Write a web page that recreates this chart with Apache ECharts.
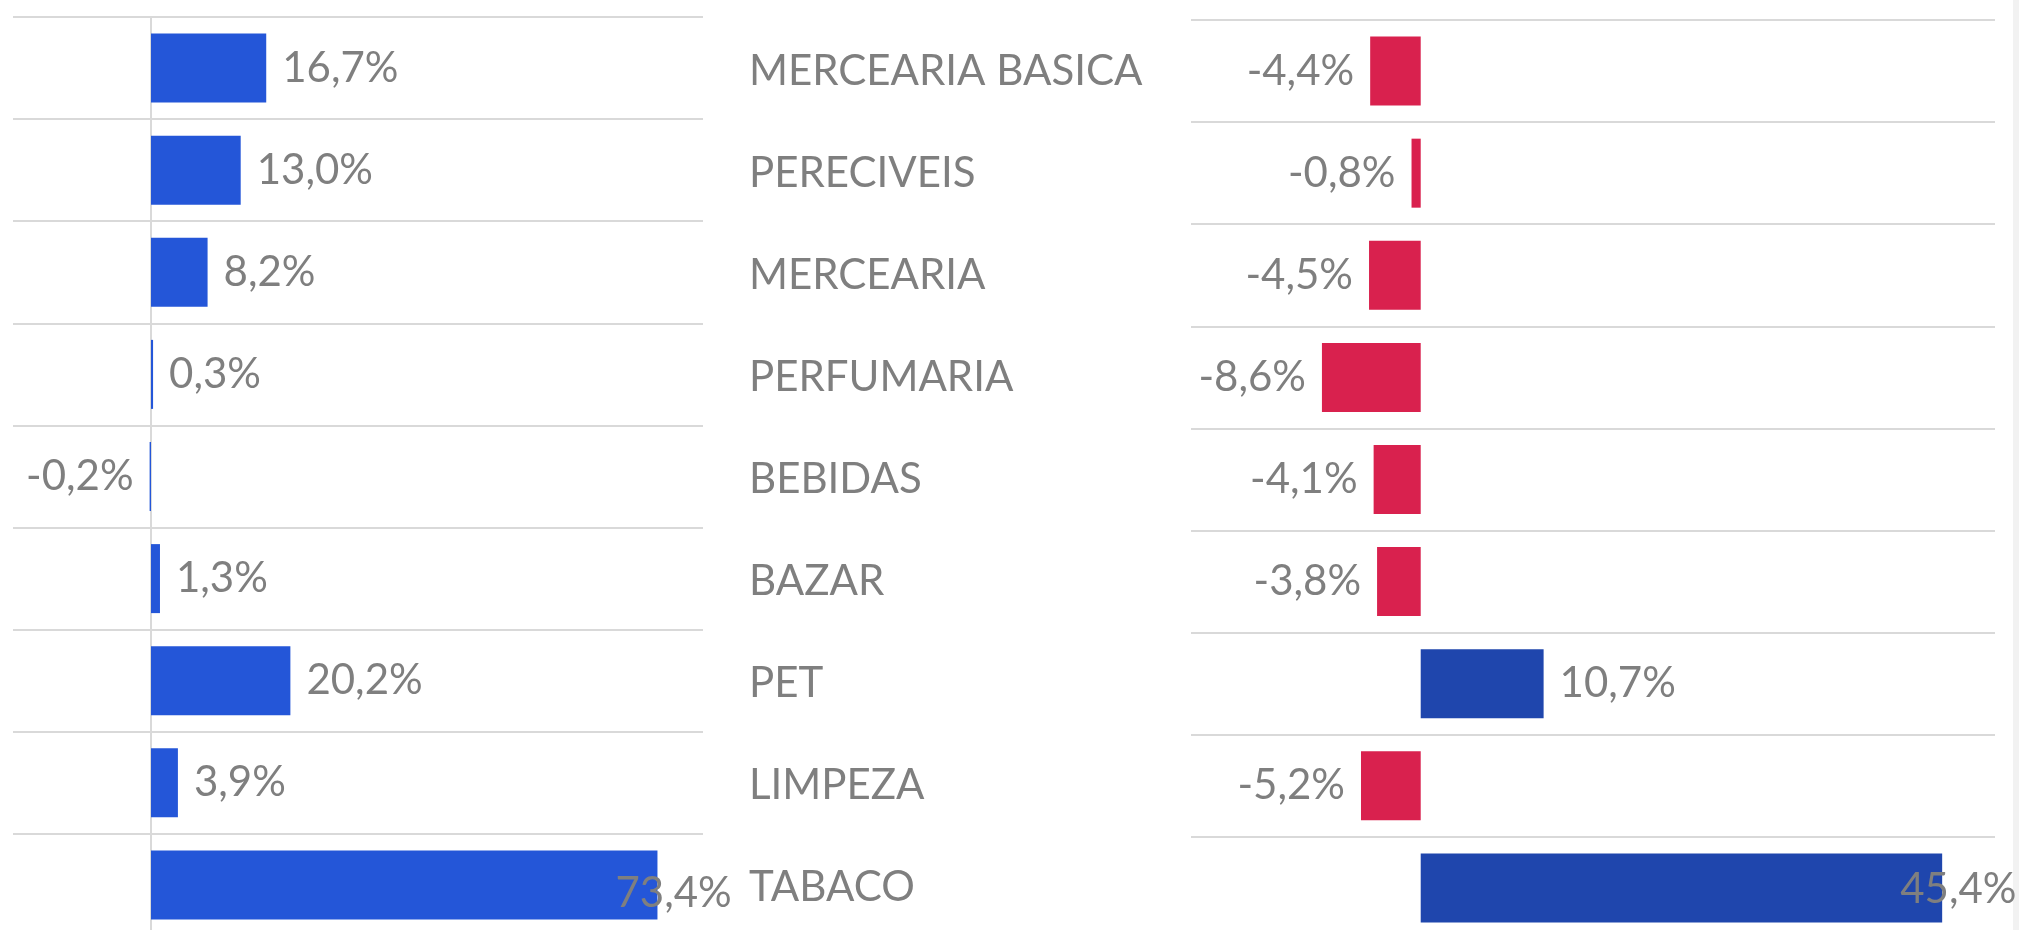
<!DOCTYPE html>
<html>
<head>
<meta charset="utf-8">
<title>Variação por categoria</title>
<script src="https://cdn.jsdelivr.net/npm/echarts@6/dist/echarts.min.js"></script>
<style>
  html, body { margin: 0; padding: 0; background: #fff; overflow: hidden; }
  /* o gráfico original é cortado embaixo, por isso o container é maior que a janela */
  #main { width: 2019px; height: 950px; }
</style>
</head>
<body>
<div id="main"></div>
<script>
// categorias (de cima para baixo)
const categorias = ['MERCEARIA BASICA', 'PERECIVEIS', 'MERCEARIA', 'PERFUMARIA', 'BEBIDAS', 'BAZAR', 'PET', 'LIMPEZA', 'TABACO']
// variação do gráfico da esquerda (%)
const valoresEsq = [16.7, 13.0, 8.2, 0.3, -0.2, 1.3, 20.2, 3.9, 73.4]
// variação do gráfico da direita (%)
const valoresDir = [-4.4, -0.8, -4.5, -8.6, -4.1, -3.8, 10.7, -5.2, 45.4]

const cinza = '#7F7F7F'
const fonte = 'Lato, "Open Sans", sans-serif'

function fmt (v) {
  return v.toFixed(1).replace('.', ',') + '%'
}

// monta os itens de barra, label à esquerda quando negativo
function itens (valores, corPos, corNeg, offsetMaior) {
  const maxV = Math.max(...valores)
  return valores.map(v => {
    const item = {
      value: v,
      itemStyle: { color: v < 0 ? corNeg : corPos },
      label: { position: v < 0 ? 'left' : 'right' }
    }
    // o maior valor tem o label "empurrado" para dentro da barra (como no Excel)
    if (v === maxV) item.label.offset = offsetMaior
    return item
  })
}

const chart = echarts.init(document.getElementById('main'))

const labelValor = {
  show: true,
  distance: 16,
  color: cinza,
  fontSize: 42,
  fontFamily: fonte,
  formatter: p => fmt(p.value)
}

const option = {
  backgroundColor: '#fff',
  animation: false,
  grid: [
    { left: 13, top: 17, width: 690, height: 919 },
    { left: 1191, top: 20, width: 804, height: 919 }
  ],
  xAxis: [
    { gridIndex: 0, type: 'value', min: -20, max: 80, axisLabel: { show: false }, axisLine: { show: false }, axisTick: { show: false }, splitLine: { show: false } },
    { gridIndex: 1, type: 'value', min: -20, max: 50, axisLabel: { show: false }, axisLine: { show: false }, axisTick: { show: false }, splitLine: { show: false } }
  ],
  yAxis: [
    {
      gridIndex: 0,
      type: 'category',
      inverse: true,
      data: categorias,
      axisLine: { show: true, onZero: true, lineStyle: { color: '#D9D9D9', width: 2 } },
      axisTick: { show: false },
      axisLabel: { show: false },
      splitLine: { show: true, lineStyle: { color: '#D9D9D9', width: 2 } }
    },
    {
      gridIndex: 1,
      type: 'category',
      inverse: true,
      data: categorias,
      axisLine: { show: false, onZero: false },
      axisTick: { show: false },
      // nomes das categorias ficam no meio, entre os dois gráficos
      axisLabel: { show: true, align: 'left', margin: 442, color: cinza, fontSize: 42, fontFamily: fonte },
      splitLine: { show: true, lineStyle: { color: '#D9D9D9', width: 2 } }
    }
  ],
  series: [
    {
      type: 'bar',
      xAxisIndex: 0,
      yAxisIndex: 0,
      barWidth: 69,
      data: itens(valoresEsq, '#2456D8', '#2456D8', [-58, 9]),
      label: labelValor
    },
    {
      type: 'bar',
      xAxisIndex: 1,
      yAxisIndex: 1,
      barWidth: 69,
      data: itens(valoresDir, '#1F46AD', '#D9214E', [-58, 2]),
      label: labelValor
    }
  ],
  // faixa cinza na borda direita
  graphic: [
    { type: 'rect', left: 2013, top: 0, shape: { width: 6, height: 950 }, style: { fill: '#F2F2F2' } }
  ]
}

chart.setOption(option)
</script>
</body>
</html>
